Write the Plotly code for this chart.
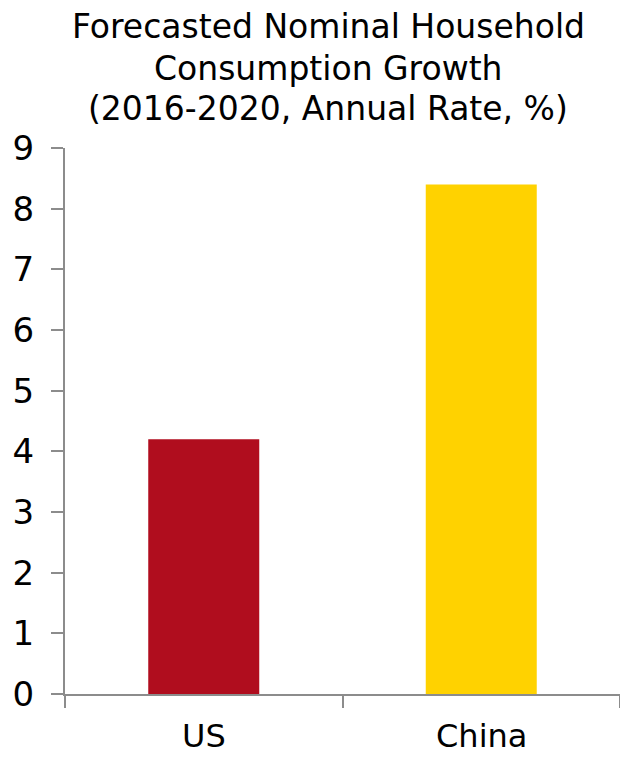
import plotly.graph_objects as go

categories = ["US", "China"]
growth = [4.2, 8.4]
bar_colors = ["#B00D1E", "#FFD200"]
y_ticks = list(range(0, 10))
title_lines = [
    "Forecasted Nominal Household",
    "Consumption Growth",
    "(2016-2020, Annual Rate, %)",
]

font_family = "DejaVu Sans, Verdana, sans-serif"
axis_grey = "#8C8C8C"

# figure / plot-area geometry in pixels, used to place the title lines
fig_w, fig_h = 620, 758
m_left, m_right, m_top, m_bot = 65, 0, 148, 64
plot_w = fig_w - m_left - m_right
plot_h = fig_h - m_top - m_bot

fig = go.Figure(
    go.Bar(
        x=categories,
        y=growth,
        marker=dict(color=bar_colors, line=dict(width=0)),
        width=0.4,
    )
)

fig.update_layout(
    width=fig_w,
    height=fig_h,
    margin=dict(l=m_left, r=m_right, t=m_top, b=m_bot),
    paper_bgcolor="white",
    plot_bgcolor="white",
    showlegend=False,
    font=dict(family=font_family, color="#000000", size=33),
)

fig.update_yaxes(
    range=[0, 9],
    tickvals=y_ticks,
    ticks="outside",
    ticklen=12,
    tickwidth=2,
    tickcolor=axis_grey,
    showline=True,
    linecolor=axis_grey,
    linewidth=2,
    showgrid=False,
    zeroline=False,
    tickfont=dict(size=34),
    ticklabelstandoff=10,
)

fig.update_xaxes(
    range=[-0.5, 1.5],
    tickvals=[-0.5, 0.5, 1.5],
    ticktext=["", "", ""],
    ticks="outside",
    ticklen=12,
    tickwidth=2,
    tickcolor=axis_grey,
    showline=True,
    linecolor=axis_grey,
    linewidth=2,
    showgrid=False,
)

# category labels centred under each bar
for cat in categories:
    fig.add_annotation(
        x=cat,
        y=0,
        xref="x",
        yref="paper",
        text=cat,
        showarrow=False,
        yanchor="middle",
        yshift=-42,
        font=dict(size=32, family=font_family, color="#000000"),
    )

# three-line title, each line placed by its centre in pixels
title_cx = 328
title_centres = [27, 68, 108]
for line, yc in zip(title_lines, title_centres):
    fig.add_annotation(
        x=(title_cx - m_left) / plot_w,
        y=1 + (m_top - yc) / plot_h,
        xref="paper",
        yref="paper",
        text=line,
        showarrow=False,
        xanchor="center",
        yanchor="middle",
        font=dict(size=33, family=font_family, color="#000000"),
    )

fig.write_html("out.html")
